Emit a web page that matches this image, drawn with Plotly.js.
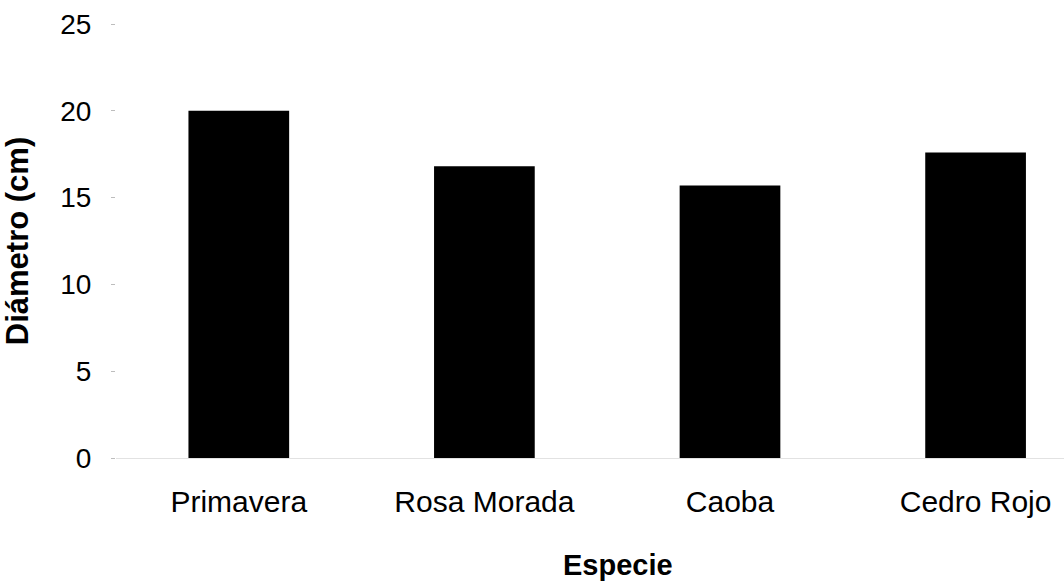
<!DOCTYPE html>
<html>
<head>
<meta charset="utf-8">
<script src="https://cdn.plot.ly/plotly-3.0.1.min.js"></script>
<style>
  html, body { margin: 0; padding: 0; background: #fff; }
  #chart { width: 1064px; height: 584px; }
</style>
</head>
<body>
<div id="chart"></div>
<script>
// Mean stem diameter per species
const especies = ['Primavera', 'Rosa Morada', 'Caoba', 'Cedro Rojo'];
const diametro = [20.0, 16.8, 15.7, 17.6];
const yTicks = [0, 5, 10, 15, 20, 25];
const xTitle = 'Especie';
const yTitle = 'Diámetro (cm)';

const font = 'Liberation Sans, Arial, Helvetica, sans-serif';

const trace = {
  type: 'bar',
  x: especies,
  y: diametro,
  marker: { color: '#000000', line: { width: 0 } },
  hoverinfo: 'x+y'
};

const layout = {
  width: 1064,
  height: 584,
  margin: { l: 116, r: 0, t: 24, b: 126 },
  paper_bgcolor: '#ffffff',
  plot_bgcolor: '#ffffff',
  bargap: 0.59,
  showlegend: false,
  font: { family: font, color: '#000' },
  xaxis: {
    type: 'category',
    range: [-0.5, 3.36],
    showgrid: false,
    zeroline: false,
    showline: true,
    linecolor: '#e2e2e2',
    linewidth: 1,
    ticks: '',
    ticklabelstandoff: 17,
    tickfont: { family: font, size: 30, color: '#000' },
    automargin: false
  },
  yaxis: {
    range: [0, 25],
    tickvals: yTicks,
    ticktext: yTicks.map(String),
    showgrid: false,
    zeroline: false,
    showline: false,
    ticks: 'outside',
    ticklen: 4,
    tickwidth: 1,
    tickcolor: '#bdbdbd',
    ticklabelstandoff: 14,
    tickfont: { family: font, size: 28, color: '#000' },
    title: {
      text: '<b>' + yTitle + '</b>',
      font: { family: font, size: 31, color: '#000' },
      standoff: 22
    },
    automargin: false
  },
  annotations: [{
    text: '<b>' + xTitle + '</b>',
    xref: 'paper', yref: 'paper',
    x: 0.53, y: -0.2465,
    xanchor: 'center', yanchor: 'middle',
    showarrow: false,
    font: { family: font, size: 29, color: '#000' }
  }]
};

Plotly.newPlot('chart', [trace], layout, { staticPlot: true, displayModeBar: false });
</script>
</body>
</html>
